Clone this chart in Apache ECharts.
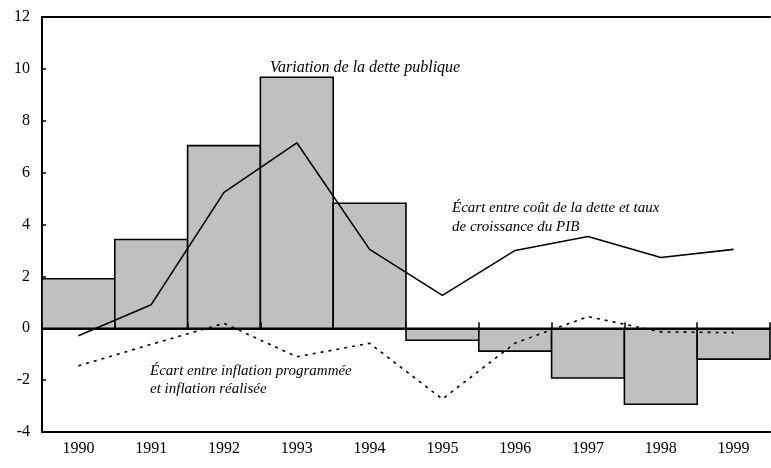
<!DOCTYPE html>
<html>
<head>
<meta charset="utf-8">
<script src="https://cdn.jsdelivr.net/npm/echarts@6/dist/echarts.min.js"></script>
<style>
  html, body { margin: 0; padding: 0; background: #fff; }
  #chart { width: 771px; height: 468px; }
</style>
</head>
<body>
<div id="chart"></div>
<script>
// années
const years = ['1990', '1991', '1992', '1993', '1994', '1995', '1996', '1997', '1998', '1999']
// variation de la dette publique (barres)
const detteVariation = [1.91, 3.42, 7.04, 9.68, 4.82, -0.46, -0.88, -1.92, -2.93, -1.19]
// écart entre coût de la dette et taux de croissance du PIB
const ecartCout = [-0.29, 0.91, 5.24, 7.15, 3.04, 1.27, 3.0, 3.54, 2.73, 3.04]
// écart entre inflation programmée et inflation réalisée
const ecartInflation = [-1.45, -0.62, 0.19, -1.1, -0.58, -2.73, -0.57, 0.45, -0.14, -0.17]

const serif = '"Liberation Serif", "DejaVu Serif", serif'

const chart = echarts.init(document.getElementById('chart'))

// barres jointives, un seul trait entre deux barres
const renderBar = (params, api) => {
  const i = api.value(0)
  const v = api.value(1)
  const top = api.coord([i, v])
  const base = api.coord([i, 0])
  const w = api.size([1, 0])[0]
  return {
    type: 'rect',
    shape: {
      x: top[0] - w / 2,
      y: Math.min(top[1], base[1]),
      width: w,
      height: Math.abs(base[1] - top[1])
    },
    style: { fill: '#c0c0c0', stroke: '#000', lineWidth: 1.6 }
  }
}

const option = {
  animation: false,
  backgroundColor: '#fff',
  grid: { left: 42, right: 1, top: 17, bottom: 36 },
  xAxis: [
    {
      // axe du bas : libellés
      type: 'category',
      data: years,
      position: 'bottom',
      axisLine: { onZero: false, lineStyle: { color: '#000', width: 2 } },
      axisTick: { show: false },
      axisLabel: { color: '#000', fontFamily: serif, fontSize: 16, margin: 9 }
    },
    {
      // ligne du zéro avec graduations
      type: 'category',
      data: years,
      position: 'bottom',
      axisLine: { onZero: true, lineStyle: { color: '#000', width: 2 } },
      axisTick: { show: true, inside: true, length: 6, lineStyle: { color: '#000', width: 1.5 } },
      axisLabel: { show: false },
      z: 5
    },
    {
      // cadre du haut
      type: 'category',
      data: years,
      position: 'top',
      axisLine: { lineStyle: { color: '#000', width: 2 } },
      axisTick: { show: false },
      axisLabel: { show: false }
    }
  ],
  yAxis: {
    type: 'value',
    min: -4,
    max: 12,
    interval: 2,
    axisLine: { show: true, lineStyle: { color: '#000', width: 2 } },
    axisTick: { show: true, inside: true, length: 4, lineStyle: { color: '#000', width: 1.5 } },
    axisLabel: { color: '#000', fontFamily: serif, fontSize: 16, margin: 12 },
    splitLine: { show: false }
  },
  series: [
    {
      name: 'Variation de la dette publique',
      type: 'custom',
      xAxisIndex: 0,
      renderItem: renderBar,
      encode: { x: 0, y: 1 },
      data: detteVariation.map((v, i) => [i, v]),
      z: 1
    },
    {
      name: 'Écart entre coût de la dette et taux de croissance du PIB',
      type: 'line',
      xAxisIndex: 0,
      data: ecartCout,
      symbol: 'none',
      lineStyle: { color: '#000', width: 1.6 },
      z: 3
    },
    {
      name: 'Écart entre inflation programmée et inflation réalisée',
      type: 'line',
      xAxisIndex: 0,
      data: ecartInflation,
      symbol: 'none',
      lineStyle: { color: '#000', width: 1.6, type: [3, 5] },
      z: 3
    }
  ],
  graphic: [
    {
      type: 'text', x: 270, y: 68,
      style: { text: 'Variation de la dette publique', font: 'italic 16px ' + serif, fill: '#000', verticalAlign: 'middle' }
    },
    {
      type: 'text', x: 452, y: 208,
      style: { text: 'Écart entre coût de la dette et taux', font: 'italic 15px ' + serif, fill: '#000', verticalAlign: 'middle' }
    },
    {
      type: 'text', x: 452, y: 227,
      style: { text: 'de croissance du PIB', font: 'italic 15px ' + serif, fill: '#000', verticalAlign: 'middle' }
    },
    {
      type: 'text', x: 150, y: 371,
      style: { text: 'Écart entre inflation programmée', font: 'italic 15px ' + serif, fill: '#000', verticalAlign: 'middle' }
    },
    {
      type: 'text', x: 150, y: 389,
      style: { text: 'et inflation réalisée', font: 'italic 15px ' + serif, fill: '#000', verticalAlign: 'middle' }
    }
  ]
}

chart.setOption(option)
</script>
</body>
</html>
